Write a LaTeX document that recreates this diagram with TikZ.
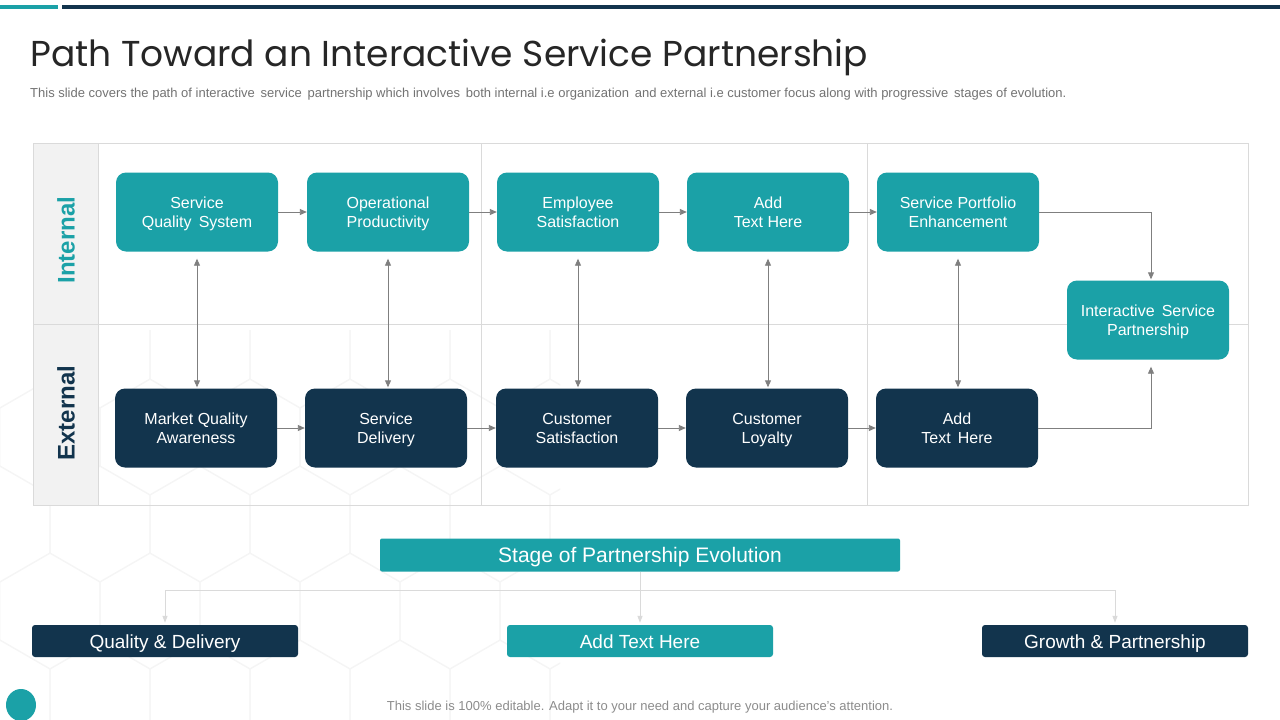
\documentclass[tikz,border=0pt]{standalone}
\usepackage{fontspec}
\setmainfont{Liberation Sans}
\newfontfamily\titlefont{Poppins}
\usetikzlibrary{arrows.meta}
\definecolor{tealbox}{HTML}{1BA1A7}
\definecolor{navybox}{HTML}{12344D}
\definecolor{gridline}{HTML}{DADADA}
\definecolor{arrowgray}{HTML}{7F7F7F}
\definecolor{labelcol}{HTML}{F2F2F2}
\newcommand{\capgap}{\rule{0pt}{18pt}}

\begin{document}
\begin{tikzpicture}[x=1pt,y=-1pt,
	inbox/.style = {fill=tealbox,rounded corners=10pt,minimum width=162pt,minimum height=79pt,align=center,text=white,inner sep=0pt,font=\fontsize{16}{19}\selectfont},
	exbox/.style = {inbox,fill=navybox},
	stagebox/.style = {fill=navybox,rounded corners=3pt,minimum width=266pt,minimum height=32pt,inner sep=0pt,text=white,font=\fontsize{19}{22}\selectfont,
		execute at begin node={\strut\rule{0pt}{21.5pt}}},
	link/.style = {draw=arrowgray,line width=0.9pt,-{Triangle[length=7pt,width=6pt]}},
	both/.style = {link,{Triangle[length=7pt,width=6pt]}-{Triangle[length=7pt,width=6pt]}},
	branch/.style = {draw=gridline,line width=1pt,-{Triangle[length=7pt,width=5pt]}}]
	\useasboundingbox (0,0) rectangle (1280,720);
	\fill[white] (0,0) rectangle (1280,720);

	% faint hexagons in the background
	\begin{scope}
		\clip (0,330) rectangle (560,720);
		\foreach \j in {0,...,4}
			\foreach \i in {0,...,6}
				\draw[black!4,line width=1pt,shift={({\i*100+mod(\j,2)*50},{350+\j*87})}]
					(30:58) -- (90:58) -- (150:58) -- (210:58) -- (270:58) -- (330:58) -- cycle;
	\end{scope}

	% top bar
	\fill[tealbox] (0,5) rectangle (58,9);
	\fill[navybox] (62,5) rectangle (1280,9);

	\node[anchor=base west,inner sep=0pt,text=black!85,font=\titlefont\fontsize{36}{40}\selectfont] (title) at (30,66) {Path Toward an Interactive Service Partnership};
	\node[anchor=base west,inner sep=0pt,text=black!55,font=\fontsize{13}{15}\selectfont] (sub) at (30,97) {This slide covers the path of interactive\, service\, partnership which involves\, both internal i.e organization\, and external i.e customer focus along with progressive\, stages of evolution.};

	% table
	\fill[labelcol] (33,143) rectangle (98,505);
	\draw[gridline,line width=1pt] (33,143) rectangle (1248,505);
	\draw[gridline,line width=1pt] (33,324) -- (1248,324);
	\draw[gridline,line width=1pt] (98,143) -- (98,505);
	\draw[gridline,line width=1pt] (481,143) -- (481,505);
	\draw[gridline,line width=1pt] (867,143) -- (867,505);

	\node[rotate=90,text=tealbox,font=\bfseries\fontsize{24}{26}\selectfont] (internal) at (66,240) {Internal};
	\node[rotate=90,text=navybox,font=\bfseries\fontsize{24}{26}\selectfont] (external) at (66,413) {External};

	\node[inbox] (sqs) at (197,212) {\capgap Service\\Quality\, System\strut};
	\node[inbox] (op)  at (388,212) {\capgap Operational\\Productivity\strut};
	\node[inbox] (es)  at (578,212) {\capgap Employee\\Satisfaction\strut};
	\node[inbox] (ath) at (768,212) {\capgap Add\\Text Here\strut};
	\node[inbox] (spe) at (958,212) {\capgap Service Portfolio\\Enhancement\strut};
	\node[inbox] (isp) at (1148,320) {\capgap Interactive\, Service\\Partnership\strut};

	\node[exbox] (mqa) at (196,428) {\capgap Market Quality\\Awareness\strut};
	\node[exbox] (sd)  at (386,428) {\capgap Service\\Delivery\strut};
	\node[exbox] (cs)  at (577,428) {\capgap Customer\\Satisfaction\strut};
	\node[exbox] (cl)  at (767,428) {\capgap Customer\\Loyalty\strut};
	\node[exbox] (atx) at (957,428) {\capgap Add\\Text\, Here\strut};

	\draw[link] (sqs) -- (op);
	\draw[link] (op) -- (es);
	\draw[link] (es) -- (ath);
	\draw[link] (ath) -- (spe);
	\draw[link] (mqa) -- (sd);
	\draw[link] (sd) -- (cs);
	\draw[link] (cs) -- (cl);
	\draw[link] (cl) -- (atx);

	\draw[both,shorten <=7pt,shorten >=1pt] (sqs.south) -- (sqs.south |- mqa.north);
	\draw[both,shorten <=7pt,shorten >=1pt] (op.south) -- (op.south |- sd.north);
	\draw[both,shorten <=7pt,shorten >=1pt] (es.south) -- (es.south |- cs.north);
	\draw[both,shorten <=7pt,shorten >=1pt] (ath.south) -- (ath.south |- cl.north);
	\draw[both,shorten <=7pt,shorten >=1pt] (spe.south) -- (spe.south |- atx.north);

	\draw[link,shorten >=1pt] (spe.east) -| ([xshift=3pt]isp.north);
	\draw[link,shorten >=7pt] (atx.east) -| ([xshift=3pt]isp.south);

	% stages
	\node[stagebox,fill=tealbox,minimum width=520pt,minimum height=33pt,rounded corners=2pt,font=\fontsize{21}{24}\selectfont,
		execute at begin node={\strut\rule{0pt}{23pt}}] (stage) at (640,555) {Stage of Partnership Evolution};
	\node[stagebox] (qd)  at (165,641) {Quality \& Delivery};
	\node[stagebox,fill=tealbox] (add) at (640,641) {Add Text Here};
	\node[stagebox] (gp)  at (1115,641) {Growth \& Partnership};
	\coordinate (fork) at (640,590);

	\draw[gridline,line width=1pt] (stage) -- (fork);
	\draw[gridline,line width=1pt] (qd.north |- fork) -- (gp.north |- fork);
	\draw[branch,shorten >=2pt] (qd.north |- fork) -- (qd.north);
	\draw[branch,shorten >=2pt] (fork) -- (add.north);
	\draw[branch,shorten >=2pt] (gp.north |- fork) -- (gp.north);

	% footer
	\fill[tealbox] (21,705) ellipse (15 and 16);
	\node[text=black!45,font=\fontsize{13}{15}\selectfont] (foot) at (640,707) {This slide is 100\% editable. Adapt it to your need and capture your audience's attention.};
\end{tikzpicture}
\end{document}
